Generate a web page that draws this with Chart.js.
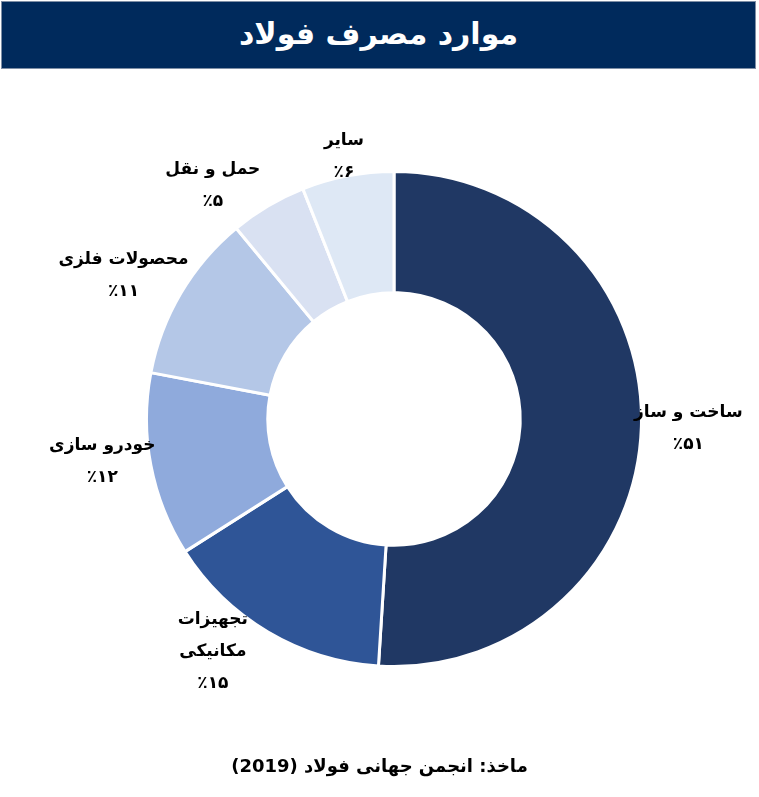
<!DOCTYPE html>
<html><head><meta charset="utf-8">
<script src="https://cdn.jsdelivr.net/npm/chart.js@4.4.1/dist/chart.umd.min.js"></script>
<style>
body{margin:0;width:759px;height:797px;background:#fff;overflow:hidden;font-family:"DejaVu Sans","Noto Sans",sans-serif;}
#title{position:absolute;left:1px;top:1px;width:755px;height:68px;background:#002A5C;border:1px solid #7f8fa6;box-sizing:border-box;color:#fff;font-weight:bold;font-size:30px;text-align:center;line-height:64px;direction:rtl;}
#wrap{position:absolute;left:0;top:80px;width:759px;height:680px;}
#src{position:absolute;left:0;top:755px;width:759px;text-align:center;font-weight:bold;font-size:18px;direction:rtl;color:#000;}
</style></head><body>
<div id="title">موارد مصرف فولاد</div>
<div id="wrap"><canvas id="c"></canvas></div>
<div id="src">ماخذ: انجمن جهانی فولاد (2019)</div>
<script>
const categories=["ساخت و ساز","تجهیزات\nمکانیکی","خودرو سازی","محصولات فلزی","حمل و نقل","سایر"];
const values=[51,15,12,11,5,6];
const pctLabels=["٪۵۱","٪۱۵","٪۱۲","٪۱۱","٪۵","٪۶"];
const colors=["#203864","#2F5597","#8FAADC","#B4C7E7","#D9E1F2","#DEE8F5"];
const radFactor=[1.19,1.2,1.2,1.27,1.2,1.08];
const offX=[0,-30,0,0,-30,0], offY=[0,-23,-13,17,22,0];
const labelPlugin={id:'lbl',afterDatasetsDraw(chart){
 const ctx=chart.ctx;const meta=chart.getDatasetMeta(0);
 meta.data.forEach((arc,i)=>{
  const mid=(arc.startAngle+arc.endAngle)/2;const r=arc.outerRadius*radFactor[i];
  const x=arc.x+Math.cos(mid)*r+offX[i],y=arc.y+Math.sin(mid)*r+offY[i];
  const lines=categories[i].split("\n").concat([pctLabels[i]]);
  ctx.save();ctx.fillStyle="#000";ctx.font="bold 17px 'DejaVu Sans'";ctx.textAlign="center";ctx.textBaseline="middle";
  const lh=32;const y0=y-(lines.length-1)*lh/2;
  lines.forEach((t,k)=>{ctx.direction=(k==lines.length-1)?'ltr':'rtl';ctx.fillText(t,x,y0+k*lh);});
  ctx.restore();
 });
}};
new Chart(document.getElementById('c'),{type:'doughnut',
 data:{labels:categories,datasets:[{data:values,backgroundColor:colors,borderColor:"#fff",borderWidth:3}]},
 plugins:[labelPlugin],
 options:{responsive:true,maintainAspectRatio:false,animation:false,cutout:'51%',
  layout:{padding:{top:90,bottom:92,left:145,right:116}},
  plugins:{legend:{display:false},tooltip:{enabled:false}}}});
</script></body></html>
